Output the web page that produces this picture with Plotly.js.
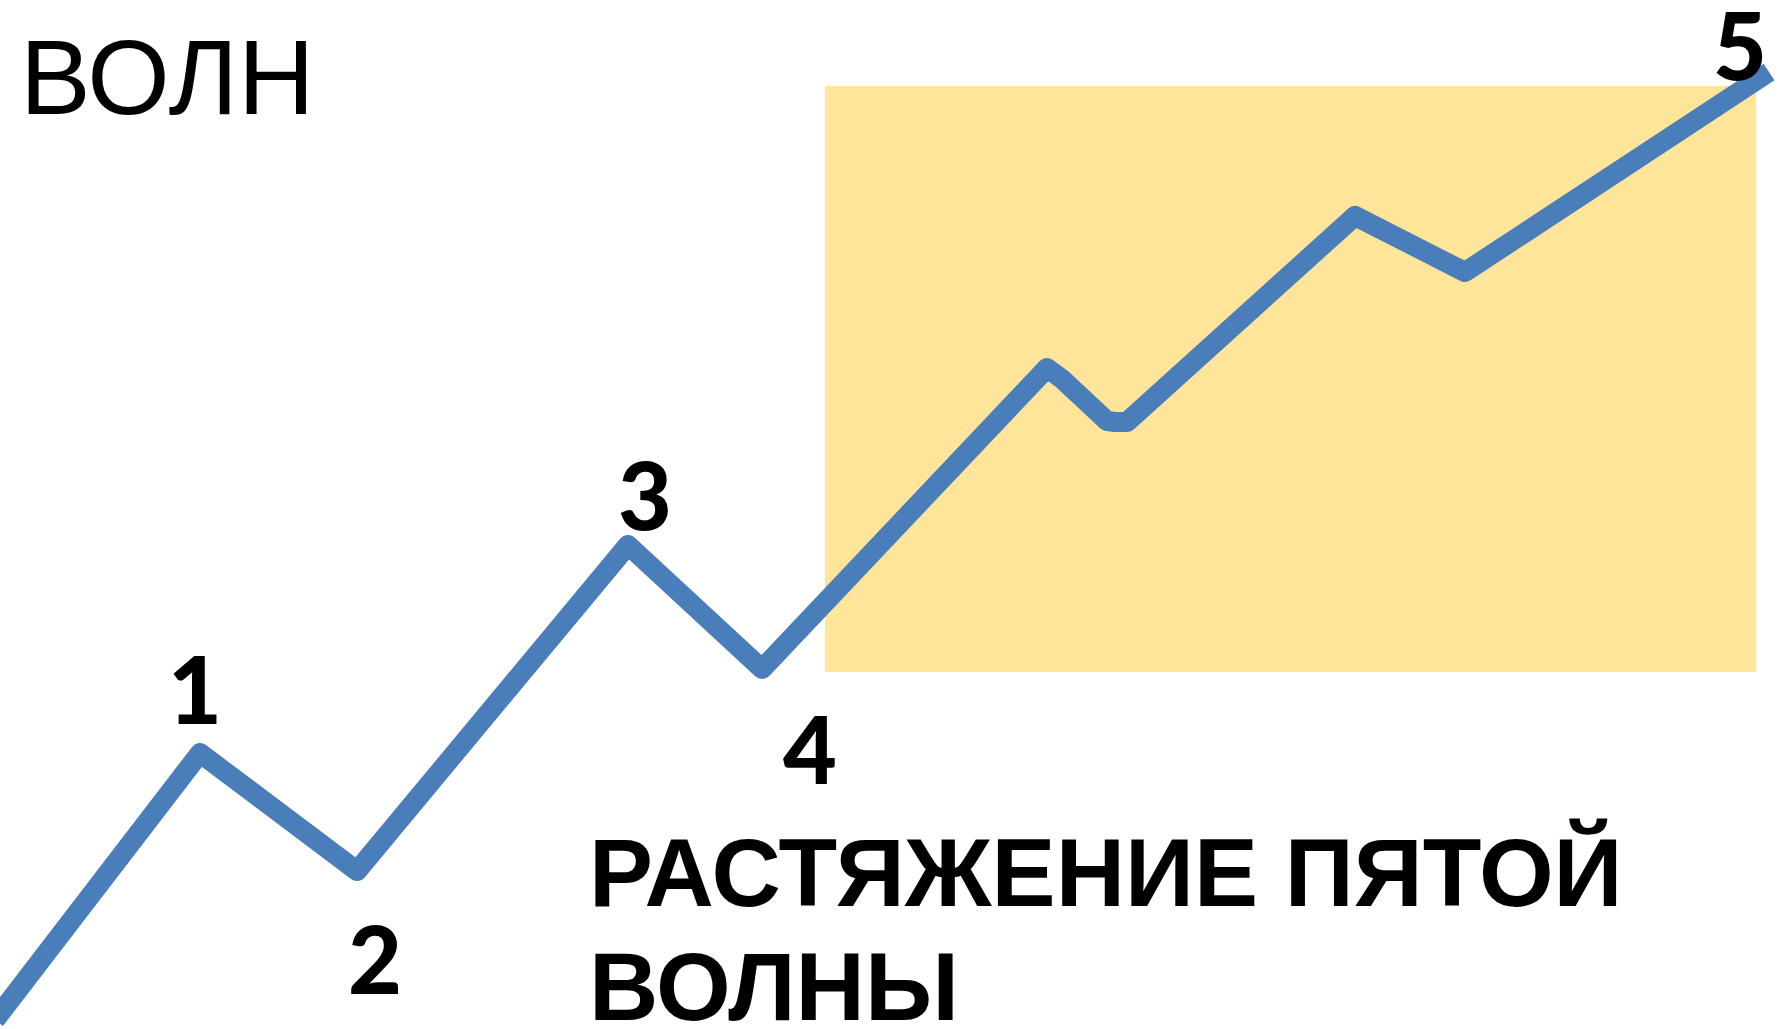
<!DOCTYPE html>
<html>
<head>
<meta charset="utf-8">
<script src="https://cdn.plot.ly/plotly-3.0.1.min.js"></script>
<style>
html,body{margin:0;padding:0;background:#fff;overflow:hidden;}
#chart{width:1785px;height:1029px;}
.js-line{stroke-linejoin:round !important;}
</style>
</head>
<body>
<div id="chart"></div>
<script>
// Wave path (horizontal position, price level)
const waveX = [-5, 200, 357, 628, 762, 1047, 1062, 1075, 1088, 1100, 1107, 1115, 1127, 1355, 1465, 1769];
const waveY = [9, 276, 158, 484, 360, 661, 650, 638, 626, 612, 608, 607, 607, 813, 757, 957];

// Wave number labels
const labelText = ["1", "2", "3", "4", "5"];
const labelX = [195, 375, 645, 810, 1740];
const labelY = [341, 71, 535, 281, 985];

// Highlighted fifth-wave extension zone
const zoneX = [825, 1756];
const zoneY = [357, 943];

const titleTop = "ВОЛН";
const captionLines = ["РАСТЯЖЕНИЕ ПЯТОЙ", "ВОЛНЫ"];

const trace = {
  x: waveX, y: waveY,
  type: "scatter", mode: "lines",
  line: {color: "#4A7EBB", width: 20},
  hoverinfo: "skip"
};

const annotations = [];
labelText.forEach((t, i) => {
  annotations.push({
    x: labelX[i], y: labelY[i], xref: "x", yref: "y",
    text: t, showarrow: false, xanchor: "center", yanchor: "middle",
    font: {family: "Lato, 'Liberation Sans', sans-serif", size: 93, color: "#000", weight: 900}
  });
});
annotations.push({
  x: 18, y: 952, xref: "x", yref: "y", text: titleTop, showarrow: false,
  xanchor: "left", yanchor: "middle",
  font: {family: "'Liberation Sans', Arial, sans-serif", size: 106, color: "#000"}
});
const capY = [157, 43];
captionLines.forEach((t, i) => {
  annotations.push({
    x: 587, y: capY[i], xref: "x", yref: "y", text: "<b>" + t + "</b>", showarrow: false,
    xanchor: "left", yanchor: "middle",
    font: {family: "'Liberation Sans', Arial, sans-serif", size: 96, color: "#000"}
  });
});

const layout = {
  width: 1785, height: 1029,
  margin: {l: 0, r: 0, t: 0, b: 0, pad: 0},
  paper_bgcolor: "#ffffff", plot_bgcolor: "#ffffff",
  showlegend: false,
  xaxis: {range: [0, 1785], visible: false, fixedrange: true},
  yaxis: {range: [0, 1029], visible: false, fixedrange: true},
  shapes: [{
    type: "rect", xref: "x", yref: "y",
    x0: zoneX[0], x1: zoneX[1], y0: zoneY[0], y1: zoneY[1],
    fillcolor: "#FEE599", line: {width: 0}, layer: "below"
  }],
  annotations: annotations
};

Plotly.newPlot("chart", [trace], layout, {displayModeBar: false, staticPlot: true});
</script>
</body>
</html>
